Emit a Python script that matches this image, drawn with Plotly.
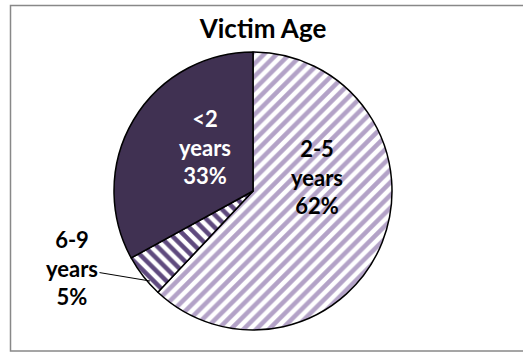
import plotly.graph_objects as go

labels = ["2-5<br>years", "6-9<br>years", "<2<br>years"]
values = [62, 5, 33]
fg_colors = ["#B3A2C7", "#5F4A7E", "#403152"]
bg_colors = ["#FFFFFF", "#FFFFFF", "#403152"]
shapes_pat = ["/", "\\", ""]
text_colors = ["#000000", "#000000", "#FFFFFF"]

W, H = 523, 352
total = sum(values)
label_texts = [f"<b>{l}<br>{round(100 * v / total)}%</b>" for l, v in zip(labels, values)]

fig = go.Figure(go.Pie(
    labels=labels,
    values=values,
    sort=False,
    direction="clockwise",
    rotation=0,
    marker=dict(
        colors=bg_colors,
        line=dict(color="black", width=1.5),
        pattern=dict(shape=shapes_pat, fgcolor=fg_colors, bgcolor=bg_colors,
                     size=9, solidity=0.5, fillmode="replace"),
    ),
    textinfo="none",
    showlegend=False,
    hoverinfo="skip",
    domain=dict(x=[114 / W, 392 / W], y=[1 - 330 / H, 1 - 52 / H]),
))

def px(x, y):
    return x / W, 1 - y / H

# label placements (pixels)
pos = [(317, 177), None, (205, 147)]
annotations = []
for i, t in enumerate(label_texts):
    if pos[i] is None:
        continue
    x, y = px(*pos[i])
    annotations.append(dict(x=x, y=y, xref="paper", yref="paper", text=t, showarrow=False,
                            xanchor="center", yanchor="middle",
                            font=dict(family="Lato", size=22, color=text_colors[i])))
# 6-9 label with leader line
hx, hy = px(150, 281)
annotations.append(dict(x=hx, y=hy, xref="paper", yref="paper", text=label_texts[1], showarrow=True,
                        arrowhead=0, arrowwidth=1, arrowcolor="black", ax=72 - 150, ay=268 - 281,
                        font=dict(family="Lato", size=22, color=text_colors[1])))

fig.update_layout(
    width=W, height=H,
    margin=dict(l=0, r=0, t=0, b=0),
    paper_bgcolor="white",
    title=dict(text="<b>Victim Age</b>", x=263 / W, xanchor="center", y=1 - 29 / H, yanchor="middle",
               font=dict(family="Lato", size=26, color="black")),
    shapes=[dict(type="rect", xref="paper", yref="paper", x0=10.5 / W, x1=1.02, y0=1 - 351 / H, y1=1 - 5.5 / H,
                 line=dict(color="#888888", width=1.5))],
    annotations=annotations,
)

fig.write_html("out.html", config={"displayModeBar": False},
               post_script="document.body.style.margin='0';document.body.style.overflow='hidden';")
